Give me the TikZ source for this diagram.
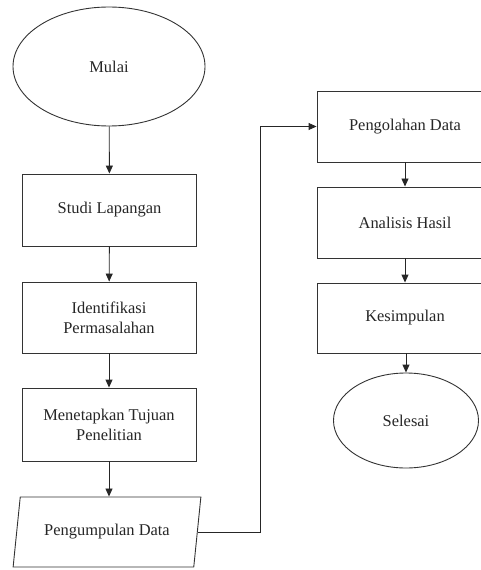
\documentclass[tikz,border=0pt]{standalone}
\usepackage{fontspec}
\setmainfont{Liberation Serif}
\usetikzlibrary{shapes.geometric,arrows.meta}
\begin{document}
\begin{tikzpicture}[x=1bp,y=-1bp,
  every node/.style={font=\fontsize{16.5}{20}\selectfont, text=black!85, align=center, inner sep=0pt},
  procbox/.style={draw=black!80, line width=0.9bp, rectangle, minimum width=174bp, minimum height=72bp},
  term/.style={draw=black!80, line width=0.9bp, ellipse},
  io/.style={draw=black!80, line width=0.9bp, trapezium, trapezium left angle=71, trapezium right angle=109, trapezium stretches=true, minimum width=188bp, minimum height=70bp},
  arr/.style={draw=black!85, line width=0.9bp, -{Triangle[length=8bp,width=7bp]}}]
\useasboundingbox (0,0) rectangle (481,570);
\clip (0,0) rectangle (481,570);
\node[term, minimum width=192bp, minimum height=119bp] (mulai) at (109,66.5) {Mulai};
\node[procbox] (studi) at (109.5,210) {Studi Lapangan};
\node[procbox, minimum height=71bp] (ident) at (109,317.5) {Identifikasi\\Permasalahan};
\node[procbox, minimum height=73bp] (tujuan) at (109,424.5) {Menetapkan Tujuan\\Penelitian};
\node[io] (data) at (107,532) {Pengumpulan Data};
\node[procbox, minimum height=71bp, minimum width=176bp] (olah) at (405,126.5) {Pengolahan Data};
\node[procbox, minimum height=71bp, minimum width=176bp] (analisis) at (405,222.5) {Analisis Hasil};
\node[procbox, minimum height=70bp, minimum width=176bp] (simpul) at (405,318) {Kesimpulan};
\node[term, minimum width=145bp, minimum height=95bp] (selesai) at (406,420.5) {Selesai};
\coordinate (bend) at (260,0);
\draw[arr] (mulai) -- (studi);
\draw[arr] (studi) -- (ident);
\draw[arr] (ident) -- (tujuan);
\draw[arr] (tujuan) -- (tujuan |- data.north);
\draw[arr] (data.east) -- (data.east -| bend) |- (olah.west);
\draw[arr] (olah) -- (analisis);
\draw[arr] (analisis) -- (simpul);
\draw[arr] (simpul.south -| selesai) -- (selesai);
\end{tikzpicture}
\end{document}
